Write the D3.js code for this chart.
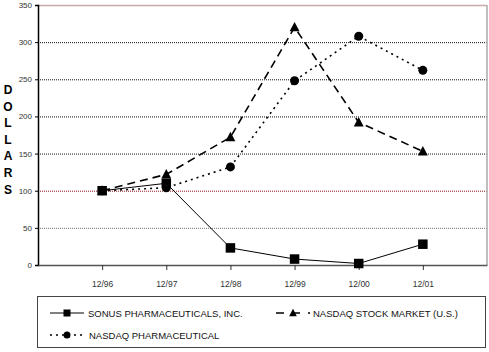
<!DOCTYPE html>
<meta charset="utf-8">
<script src="https://d3js.org/d3.v7.min.js"></script>
<style>
  body { margin: 0; background: #fff; }
  svg { font-family: "Liberation Sans", Arial, sans-serif; }
  .tick text { fill: #333; font-size: 8px; }
  .x-axis .tick text { font-size: 8.5px; }
</style>
<body>
<div id="chart"></div>
<script>
  // chart data
  const years = ["12/96", "12/97", "12/98", "12/99", "12/00", "12/01"];
  const sonus = [100, 110, 23, 8, 2, 28];
  const nasdaqMarket = [100, 122, 172, 320, 192, 153];
  const nasdaqPharma = [100, 104, 132, 248, 308, 262];
  const yTicks = [0, 50, 100, 150, 200, 250, 300, 350];

  const width = 489, height = 352;
  const plotLeft = 38, plotRight = 487, plotTop = 5, plotBottom = 265;

  const svg = d3.select("#chart").append("svg")
    .attr("width", width)
    .attr("height", height);

  // 7 slots, points sit on slot boundaries 1..6
  const x = d3.scaleLinear().domain([0, 7]).range([plotLeft, plotRight]);
  const y = d3.scaleLinear().domain([0, 350]).range([plotBottom, plotTop]);

  // gridlines
  svg.append("g").selectAll("line")
    .data(yTicks.filter(v => v > 0 && v < 350))
    .join("line")
    .attr("x1", plotLeft).attr("x2", plotRight)
    .attr("y1", d => y(d) + 0.5).attr("y2", d => y(d) + 0.5)
    .attr("stroke", d => d === 100 ? "#8b1a1a" : (d === 50 ? "#777" : "#111"))
    .attr("stroke-width", 1)
    .attr("stroke-dasharray", "1,1");

  // frame: top and right
  svg.append("line").attr("x1", plotLeft).attr("x2", plotRight)
    .attr("y1", y(350) + 0.5).attr("y2", y(350) + 0.5)
    .attr("stroke", "#c9a8a8").attr("stroke-width", 1.5);
  svg.append("line").attr("x1", plotRight).attr("x2", plotRight)
    .attr("y1", y(350)).attr("y2", y(0))
    .attr("stroke", "#aaa").attr("stroke-width", 1.5);

  // y axis
  const yAxis = svg.append("g")
    .attr("transform", `translate(${plotLeft},0)`)
    .call(d3.axisLeft(y).tickValues(yTicks).tickSize(3).tickPadding(3));
  yAxis.select(".domain").attr("stroke", "#000").attr("stroke-width", 1.5);
  yAxis.selectAll(".tick line").attr("stroke", "#000");

  // x axis
  const xAxis = svg.append("g")
    .attr("class", "x-axis")
    .attr("transform", `translate(0,${plotBottom})`)
    .call(d3.axisBottom(x).tickValues(d3.range(1, 7))
      .tickFormat(i => years[i - 1]).tickSize(5).tickPadding(11).tickSizeOuter(0));
  xAxis.select(".domain").attr("stroke", "#555").attr("stroke-width", 1.5);
  xAxis.selectAll(".tick line").attr("stroke", "#333");

  // vertical DOLLARS label
  svg.append("g").selectAll("text")
    .data("DOLLARS".split(""))
    .join("text")
    .attr("x", 8)
    .attr("y", (d, i) => 94 + i * 16.6)
    .attr("text-anchor", "middle")
    .attr("font-size", 12)
    .attr("font-weight", "bold")
    .text(d => d);

  const line = d3.line().x((d, i) => x(i + 1)).y(d => y(d));

  const series = [
    { name: "SONUS PHARMACEUTICALS, INC.", values: sonus, dash: null, width: 1, marker: "square" },
    { name: "NASDAQ STOCK MARKET (U.S.)", values: nasdaqMarket, dash: "8,5", width: 1.6, marker: "triangle" },
    { name: "NASDAQ PHARMACEUTICAL", values: nasdaqPharma, dash: "2,4", width: 1.6, marker: "circle" }
  ];

  function drawMarker(g, type, cx, cy, s) {
    if (type === "square") {
      g.append("rect").attr("x", cx - s / 2).attr("y", cy - s / 2)
        .attr("width", s).attr("height", s).attr("fill", "#000");
    } else if (type === "triangle") {
      g.append("path")
        .attr("d", `M${cx},${cy - s * 0.6}L${cx + s * 0.55},${cy + s * 0.45}L${cx - s * 0.55},${cy + s * 0.45}Z`)
        .attr("fill", "#000");
    } else {
      g.append("circle").attr("cx", cx).attr("cy", cy).attr("r", s / 2).attr("fill", "#000");
    }
  }

  // lines
  series.forEach(s => {
    svg.append("path")
      .datum(s.values)
      .attr("d", line)
      .attr("fill", "none")
      .attr("stroke", "#000")
      .attr("stroke-width", s.width)
      .attr("stroke-dasharray", s.dash);
  });

  // markers, drawn after lines
  series.slice().reverse().forEach(s => {
    const g = svg.append("g");
    s.values.forEach((v, i) => drawMarker(g, s.marker, x(i + 1), y(v), s.marker === "square" ? 9.5 : 9));
  });

  // legend
  const legend = svg.append("g");
  legend.append("rect")
    .attr("x", 37.5).attr("y", 296.5)
    .attr("width", 448).attr("height", 51)
    .attr("fill", "none").attr("stroke", "#444").attr("stroke-width", 1);

  const items = [
    { s: series[0], lx: 50, ly: 313, tx: 88 },
    { s: series[1], lx: 276, ly: 313, tx: 313 },
    { s: series[2], lx: 50, ly: 335, tx: 89 }
  ];
  items.forEach(it => {
    legend.append("line")
      .attr("x1", it.lx).attr("x2", it.lx + 34)
      .attr("y1", it.ly).attr("y2", it.ly)
      .attr("stroke", "#000")
      .attr("stroke-width", it.s.width)
      .attr("stroke-dasharray", it.s.marker === "triangle" ? "8,8" : it.s.dash);
    drawMarker(legend, it.s.marker, it.lx + 17, it.ly, 7);
    legend.append("text")
      .attr("x", it.tx).attr("y", it.ly + 3.5)
      .attr("font-size", 9.5)
      .attr("fill", "#111")
      .text(it.s.name);
  });
</script>
</body>
